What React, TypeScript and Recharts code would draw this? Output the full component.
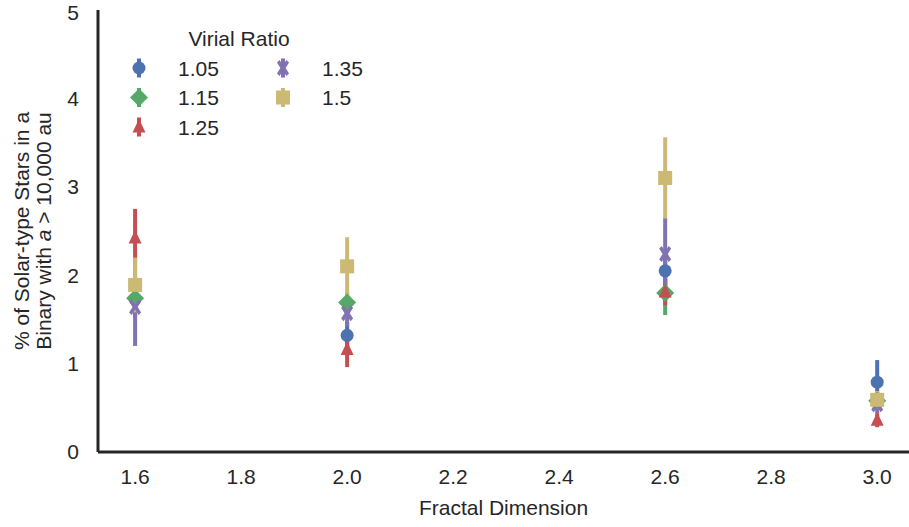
import React from 'react';
import { ScatterChart, Scatter, XAxis, YAxis, ErrorBar, Legend } from 'recharts';

const fractalDims = [1.6, 2.0, 2.6, 3.0];
const xTicks = [1.6, 1.8, 2.0, 2.2, 2.4, 2.6, 2.8, 3.0];
const yTicks = [0, 1, 2, 3, 4, 5];

const virialRatios = ['1.05', '1.15', '1.25', '1.35', '1.5'];
const colors = ['#4C72B0', '#55A868', '#C44E52', '#8172B2', '#CCB974'];
const markers = ['circle', 'diamond', 'triangle', 'x', 'square'];

// percentage values and errors per virial ratio, in fractalDims order
const vals105 = [1.73, 1.32, 2.05, 0.79];
const errs105 = [0.2, 0.15, 0.2, 0.25];
const vals115 = [1.74, 1.69, 1.80, 0.58];
const errs115 = [0.15, 0.12, 0.25, 0.1];
const vals125 = [2.42, 1.16, 1.81, 0.36];
const errs125 = [0.33, 0.2, 0.15, 0.08];
const vals135 = [1.64, 1.57, 2.24, 0.54];
const errs135 = [0.44, 0.15, 0.41, 0.1];
const vals150 = [1.89, 2.10, 3.10, 0.59];
const errs150 = [0.31, 0.33, 0.46, 0.1];

const allVals = [vals105, vals115, vals125, vals135, vals150];
const allErrs = [errs105, errs115, errs125, errs135, errs150];

const FONT = '"Liberation Sans", Arial, sans-serif';
const TEXT = '#262626';
const FS = 21;

function drawMarker(kind: string, cx: number, cy: number, color: string) {
  switch (kind) {
    case 'circle':
      return <circle cx={cx} cy={cy} r={6.5} fill={color} />;
    case 'diamond':
      return <path d={`M${cx},${cy - 9}L${cx + 9},${cy}L${cx},${cy + 9}L${cx - 9},${cy}Z`} fill={color} />;
    case 'triangle':
      return <path d={`M${cx},${cy - 8}L${cx + 6.5},${cy + 5.5}L${cx - 6.5},${cy + 5.5}Z`} fill={color} />;
    case 'x': {
      // filled X, a bit taller than wide
      const sx = 6;
      const sy = 8;
      const t = 2.6;
      const pts = [
        [-sx, -sy + t], [-sx + t, -sy], [0, -t], [sx - t, -sy], [sx, -sy + t], [t, 0],
        [sx, sy - t], [sx - t, sy], [0, t], [-sx + t, sy], [-sx, sy - t], [-t, 0],
      ];
      return <path d={'M' + pts.map((p) => `${cx + p[0]},${cy + p[1]}`).join('L') + 'Z'} fill={color} />;
    }
    default:
      return <rect x={cx - 7} y={cy - 7} width={14} height={14} fill={color} />;
  }
}

const makeShape = (i: number) => (props: any) => {
  const { cx, cy } = props;
  if (cx == null || cy == null) return <g />;
  return drawMarker(markers[i], cx, cy, colors[i]);
};

const renderLegend = () => {
  const cols = [
    { mx: 139, tx: 178, items: [0, 1, 2] },
    { mx: 283, tx: 322, items: [3, 4] },
  ];
  return (
    <svg width={400} height={150} style={{ display: 'block' }}>
      <text x={239} y={45.5} textAnchor="middle" fontFamily={FONT} fontSize={FS} fill={TEXT}>
        Virial Ratio
      </text>
      {cols.map((c) =>
        c.items.map((idx, row) => {
          const cy = 68 + row * 29.5;
          return (
            <g key={idx}>
              <line x1={c.mx} x2={c.mx} y1={cy - 9.5} y2={cy + 9.5} stroke={colors[idx]} strokeWidth={4} />
              {drawMarker(markers[idx], c.mx, cy, colors[idx])}
              <text x={c.tx} y={cy + 7.5} fontFamily={FONT} fontSize={FS} fill={TEXT}>
                {virialRatios[idx]}
              </text>
            </g>
          );
        })
      )}
    </svg>
  );
};

const YLabel = (props: any) => {
  const { viewBox } = props;
  const cy = viewBox.y + viewBox.height / 2;
  return (
    <g fontFamily={FONT} fontSize={FS} fill={TEXT}>
      <text x={0} y={0} textAnchor="middle" transform={`translate(28.5, ${cy}) rotate(-90)`}>
        % of Solar-type Stars in a
      </text>
      <text x={0} y={0} textAnchor="middle" transform={`translate(50.5, ${cy}) rotate(-90)`}>
        Binary with <tspan fontStyle="italic">a</tspan> &gt; 10,000 au
      </text>
    </g>
  );
};

const XLabel = (props: any) => {
  const { viewBox } = props;
  return (
    <text
      x={viewBox.x + viewBox.width / 2}
      y={viewBox.y + 63}
      textAnchor="middle"
      fontFamily={FONT}
      fontSize={FS}
      fill={TEXT}
    >
      Fractal Dimension
    </text>
  );
};

export default function App() {
  const seriesData = allVals.map((vals, i) =>
    fractalDims.map((x, j) => ({ x, y: vals[j], err: allErrs[i][j] }))
  );

  return (
    <div style={{ position: 'absolute', left: 0, top: 0, background: '#fff' }}>
      <ScatterChart width={909} height={527} margin={{ top: 10, right: 0, bottom: 0, left: 0 }}>
        <XAxis
          type="number"
          dataKey="x"
          domain={[1.53, 3.06]}
          ticks={xTicks}
          tickFormatter={(v: number) => v.toFixed(1)}
          allowDataOverflow
          height={75}
          tickLine={false}
          tickSize={0}
          tickMargin={17}
          axisLine={{ stroke: TEXT, strokeWidth: 3 }}
          tick={{ fill: TEXT, fontSize: FS, fontFamily: FONT }}
          label={<XLabel />}
        />
        <YAxis
          type="number"
          dataKey="y"
          domain={[0, 5]}
          ticks={yTicks}
          width={98}
          tickLine={false}
          tickSize={0}
          tickMargin={19}
          axisLine={{ stroke: TEXT, strokeWidth: 3 }}
          tick={{ fill: TEXT, fontSize: FS, fontFamily: FONT }}
          label={<YLabel />}
        />
        <Legend
          verticalAlign="middle"
          layout="horizontal"
          content={renderLegend}
          wrapperStyle={{ left: 0, top: 0, width: 400, height: 150 }}
        />
        {seriesData.map((d, i) => (
          <Scatter
            key={virialRatios[i]}
            name={virialRatios[i]}
            data={d}
            fill={colors[i]}
            shape={makeShape(i)}
            isAnimationActive={false}
          >
            <ErrorBar dataKey="err" direction="y" width={0} stroke={colors[i]} strokeWidth={4} />
          </Scatter>
        ))}
      </ScatterChart>
    </div>
  );
}
